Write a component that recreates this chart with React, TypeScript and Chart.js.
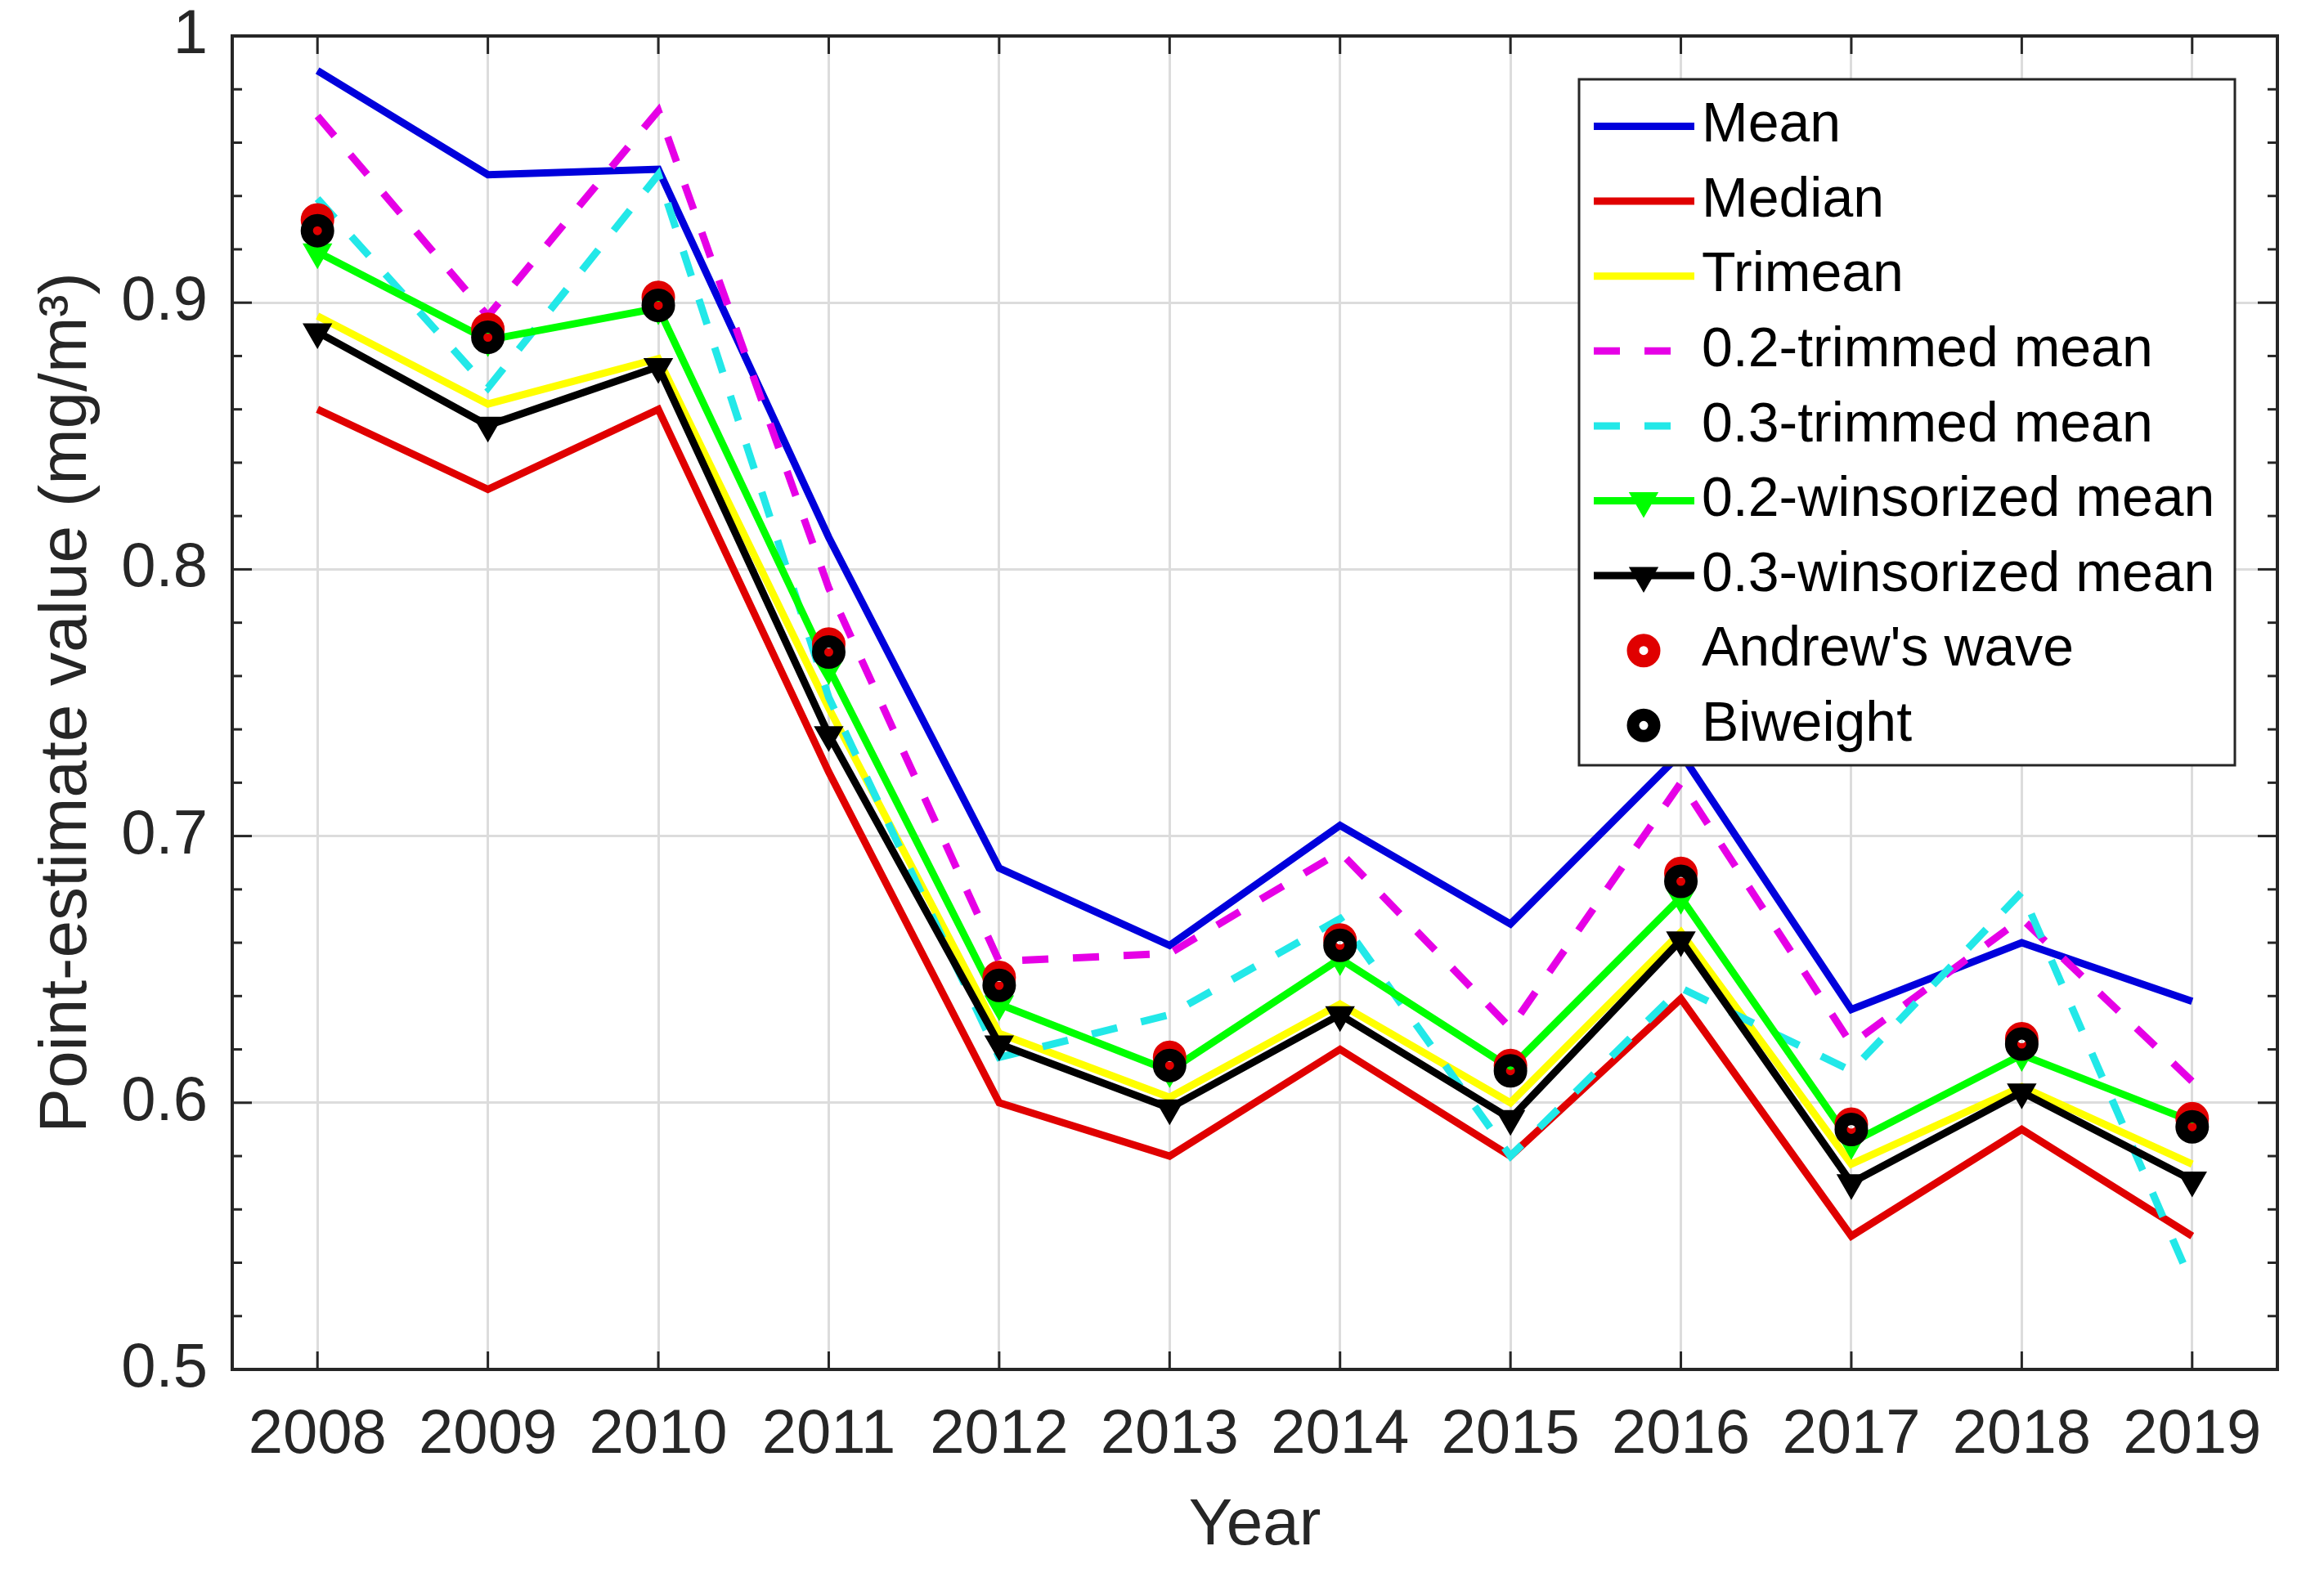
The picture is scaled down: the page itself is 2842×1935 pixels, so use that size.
import React, { useEffect, useRef } from "react";
import { Chart, registerables } from "chart.js";

Chart.register(...registerables);

// ---------- data ----------
const YEARS = ["2008", "2009", "2010", "2011", "2012", "2013", "2014", "2015", "2016", "2017", "2018", "2019"];

const MEAN = [0.987, 0.948, 0.950, 0.812, 0.688, 0.659, 0.704, 0.667, 0.731, 0.635, 0.660, 0.638];
const MEDIAN = [0.860, 0.830, 0.860, 0.724, 0.600, 0.580, 0.620, 0.580, 0.639, 0.550, 0.590, 0.550];
const TRIMEAN = [0.895, 0.862, 0.879, 0.748, 0.626, 0.602, 0.637, 0.600, 0.664, 0.577, 0.606, 0.577];
const TRIMMED_02 = [0.970, 0.895, 0.972, 0.793, 0.653, 0.656, 0.694, 0.628, 0.720, 0.622, 0.669, 0.608];
const TRIMMED_03 = [0.939, 0.868, 0.948, 0.752, 0.617, 0.633, 0.669, 0.580, 0.643, 0.612, 0.679, 0.532];
const WINSOR_02 = [0.919, 0.886, 0.898, 0.763, 0.637, 0.612, 0.654, 0.613, 0.677, 0.585, 0.618, 0.593];
const WINSOR_03 = [0.889, 0.854, 0.876, 0.738, 0.622, 0.598, 0.633, 0.594, 0.661, 0.570, 0.604, 0.571];
const ANDREWS = [0.931, 0.890, 0.902, 0.772, 0.647, 0.617, 0.661, 0.614, 0.686, 0.592, 0.624, 0.594];
const BIWEIGHT = [0.927, 0.887, 0.899, 0.769, 0.644, 0.614, 0.659, 0.612, 0.683, 0.590, 0.622, 0.591];

const Y_MIN = 0.5;
const Y_MAX = 1;
const Y_STEP = 0.1;
const Y_MINOR_STEP = 0.02;

const X_TITLE = "Year";
const Y_TITLE = "Point-estimate value (mg/m\u00B3)";

// ---------- style ----------
const FONT = '"Liberation Sans", Arial, Helvetica, sans-serif';
const AXIS_COLOR = "#262626";
const GRID_COLOR = "#dcdcdc";
const LINE_W = 9;
const DASH = [32, 30];

type Marker = "none" | "tri" | "ring";
interface Series {
  label: string;
  data: number[];
  color: string;
  dashed: boolean;
  line: boolean;
  marker: Marker;
}

const SERIES: Series[] = [
  { label: "Mean", data: MEAN, color: "#0000dc", dashed: false, line: true, marker: "none" },
  { label: "Median", data: MEDIAN, color: "#e00000", dashed: false, line: true, marker: "none" },
  { label: "Trimean", data: TRIMEAN, color: "#ffff00", dashed: false, line: true, marker: "none" },
  { label: "0.2-trimmed mean", data: TRIMMED_02, color: "#e600e6", dashed: true, line: true, marker: "none" },
  { label: "0.3-trimmed mean", data: TRIMMED_03, color: "#22e8e8", dashed: true, line: true, marker: "none" },
  { label: "0.2-winsorized mean", data: WINSOR_02, color: "#00ff00", dashed: false, line: true, marker: "tri" },
  { label: "0.3-winsorized mean", data: WINSOR_03, color: "#000000", dashed: false, line: true, marker: "tri" },
  { label: "Andrew's wave", data: ANDREWS, color: "#e00000", dashed: false, line: false, marker: "ring" },
  { label: "Biweight", data: BIWEIGHT, color: "#000000", dashed: false, line: false, marker: "ring" },
];

const TRI_R = 17;
const TRI_BW = 4;
const RING_R = 13;
const RING_BW = 15;

function drawTriangle(ctx: CanvasRenderingContext2D, x: number, y: number, r: number, color: string) {
  ctx.save();
  ctx.beginPath();
  for (let k = 0; k < 3; k++) {
    const a = Math.PI + (k * 2 * Math.PI) / 3;
    const px = x + Math.sin(a) * r;
    const py = y - Math.cos(a) * r;
    if (k === 0) ctx.moveTo(px, py);
    else ctx.lineTo(px, py);
  }
  ctx.closePath();
  ctx.fillStyle = color;
  ctx.strokeStyle = color;
  ctx.lineWidth = TRI_BW;
  ctx.fill();
  ctx.stroke();
  ctx.restore();
}

function drawRing(ctx: CanvasRenderingContext2D, x: number, y: number, color: string) {
  ctx.save();
  ctx.beginPath();
  ctx.arc(x, y, RING_R, 0, Math.PI * 2);
  ctx.strokeStyle = color;
  ctx.lineWidth = RING_BW;
  ctx.stroke();
  ctx.restore();
}

const framePlugin = {
  id: "matlabFrame",
  beforeDatasetsDraw(chart: any) {
    const { ctx, chartArea } = chart;
    const { left, right, top, bottom } = chartArea;
    const xs = chart.scales.x;
    const ys = chart.scales.y;
    ctx.save();
    ctx.strokeStyle = AXIS_COLOR;
    ctx.lineWidth = 3;
    const seg = (x1: number, y1: number, x2: number, y2: number) => {
      ctx.beginPath();
      ctx.moveTo(x1, y1);
      ctx.lineTo(x2, y2);
      ctx.stroke();
    };
    YEARS.forEach((_, i) => {
      const px = xs.getPixelForValue(i);
      seg(px, bottom, px, bottom - 22);
      seg(px, top, px, top + 22);
    });
    const nMinor = Math.round((Y_MAX - Y_MIN) / Y_MINOR_STEP);
    const perMajor = Math.round(Y_STEP / Y_MINOR_STEP);
    for (let k = 0; k <= nMinor; k++) {
      const py = ys.getPixelForValue(Y_MIN + k * Y_MINOR_STEP);
      const len = k % perMajor === 0 ? 24 : 12;
      seg(left, py, left + len, py);
      seg(right, py, right - len, py);
    }
    ctx.lineWidth = 4;
    ctx.strokeRect(left, top, right - left, bottom - top);
    ctx.restore();
  },
};

const legendPlugin = {
  id: "matlabLegend",
  afterDraw(chart: any) {
    const { ctx } = chart;
    const boxL = 1931, boxT = 97, boxR = 2733, boxB = 936;
    const row0 = 154.5, rowH = 91.6;
    const sampleL = 1949, sampleR = 2072, markerX = 2010, textX = 2081;
    ctx.save();
    ctx.fillStyle = "#ffffff";
    ctx.fillRect(boxL, boxT, boxR - boxL, boxB - boxT);
    ctx.strokeStyle = AXIS_COLOR;
    ctx.lineWidth = 3;
    ctx.strokeRect(boxL, boxT, boxR - boxL, boxB - boxT);
    SERIES.forEach((s, i) => {
      const cy = row0 + i * rowH;
      if (s.line) {
        ctx.save();
        ctx.strokeStyle = s.color;
        ctx.lineWidth = LINE_W;
        ctx.setLineDash(s.dashed ? DASH : []);
        ctx.beginPath();
        ctx.moveTo(sampleL, cy);
        ctx.lineTo(sampleR, cy);
        ctx.stroke();
        ctx.restore();
      }
      if (s.marker === "tri") drawTriangle(ctx, markerX, cy, TRI_R, s.color);
      if (s.marker === "ring") drawRing(ctx, markerX, cy, s.color);
      ctx.fillStyle = "#000000";
      ctx.font = `68px ${FONT}`;
      ctx.textAlign = "left";
      ctx.textBaseline = "middle";
      ctx.fillText(s.label, textX, cy);
    });
    ctx.restore();
  },
};

export default function App() {
  const canvasRef = useRef<HTMLCanvasElement | null>(null);

  useEffect(() => {
    const canvas = canvasRef.current;
    if (!canvas) return;
    const n = SERIES.length;
    const datasets = SERIES.map((s, i) => ({
      label: s.label,
      data: s.data,
      order: n - 1 - i,
      borderColor: s.color,
      backgroundColor: s.color,
      borderWidth: LINE_W,
      borderDash: s.dashed ? DASH : [],
      showLine: s.line,
      fill: false,
      tension: 0,
      pointStyle: s.marker === "ring" ? "circle" : "triangle",
      pointRotation: s.marker === "tri" ? 180 : 0,
      pointRadius: s.marker === "none" ? 0 : s.marker === "tri" ? TRI_R : RING_R,
      pointBorderWidth: s.marker === "ring" ? RING_BW : TRI_BW,
      pointBorderColor: s.color,
      pointBackgroundColor: s.marker === "ring" ? "rgba(0,0,0,0)" : s.color,
    }));

    const zeroPad = (s: any) => {
      s.paddingTop = 0;
      s.paddingBottom = 0;
      s.paddingLeft = 0;
      s.paddingRight = 0;
    };

    const chart = new Chart(canvas, {
      type: "line",
      data: { labels: YEARS, datasets: datasets as any },
      options: {
        responsive: false,
        devicePixelRatio: 1,
        animation: false,
        events: [],
        layout: { padding: { top: 44, right: 57, left: 0, bottom: 0 } },
        plugins: {
          legend: { display: false },
          tooltip: { enabled: false },
        },
        scales: {
          x: {
            type: "category",
            offset: true,
            grid: { offset: false, color: GRID_COLOR, lineWidth: 3, drawTicks: false },
            border: { display: false },
            ticks: {
              color: AXIS_COLOR,
              font: { family: FONT, size: 76 },
              padding: 35,
              maxRotation: 0,
              autoSkip: false,
            },
            title: {
              display: true,
              text: X_TITLE,
              color: AXIS_COLOR,
              font: { family: FONT, size: 80 },
              padding: { top: 0, bottom: 20 },
            },
            afterFit: (s: any) => {
              s.height = 260;
              zeroPad(s);
            },
          },
          y: {
            type: "linear",
            min: Y_MIN,
            max: Y_MAX,
            grid: { color: GRID_COLOR, lineWidth: 3, drawTicks: false },
            border: { display: false },
            ticks: {
              stepSize: Y_STEP,
              color: AXIS_COLOR,
              font: { family: FONT, size: 76 },
              padding: 30,
              callback: (v: any) => String(Number(Number(v).toFixed(1))),
            },
            title: {
              display: true,
              text: Y_TITLE,
              color: AXIS_COLOR,
              font: { family: FONT, size: 82 },
              padding: { top: 33, bottom: 0 },
            },
            afterFit: (s: any) => {
              s.width = 284;
              zeroPad(s);
            },
          },
        },
      } as any,
      plugins: [framePlugin, legendPlugin],
    });

    return () => {
      chart.destroy();
    };
  }, []);

  return (
    <div style={{ position: "fixed", left: 0, top: 0, width: 2842, height: 1935, background: "#ffffff" }}>
      <canvas ref={canvasRef} width={2842} height={1935} style={{ width: 2842, height: 1935, display: "block" }} />
    </div>
  );
}
